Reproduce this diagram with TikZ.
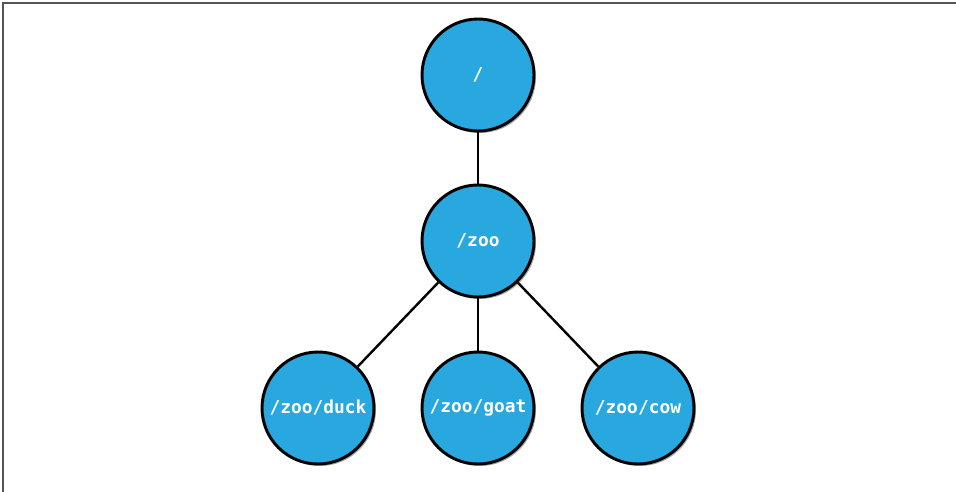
\documentclass[tikz,border=0pt]{standalone}
\usepackage{fontspec}
\usepackage{tikz}
\usetikzlibrary{shadows}
\newfontfamily\nodefont{DejaVu Sans Mono}
\definecolor{zooblue}{HTML}{29A8E0}
\definecolor{framegray}{HTML}{555555}

\begin{document}
\begin{tikzpicture}[x=0.75pt, y=-0.75pt,
	znode/.style={circle, draw=black, line width=2.2pt, fill=zooblue, minimum size=84pt, inner sep=0pt,
		text=white, font=\nodefont\bfseries\fontsize{13.4}{15}\selectfont,
		drop shadow={shadow xshift=1.5pt, shadow yshift=-1.5pt, opacity=0.35, fill=black}},
	zedge/.style={line width=1.8pt, draw=black}]
						\useasboundingbox (0,0) rectangle (956,492);
						\draw[framegray, line width=1.5pt] (3,492) -- (3,3) -- (956,3);
						\node[znode] (root) at (478,75) {/};
						\node[znode] (zoo) at (478,241) {/zoo};
						\node[znode] (duck) at (318,408) {/zoo/duck};
						\node[znode] (goat) at (478,408) {/zoo/goat};
						\node[znode] (cow) at (638,408) {/zoo/cow};
						\draw[zedge] (root) -- (zoo);
						\draw[zedge] (zoo) -- (duck);
						\draw[zedge] (zoo) -- (goat);
						\draw[zedge] (zoo) -- (cow);
					\end{tikzpicture}
\end{document}
